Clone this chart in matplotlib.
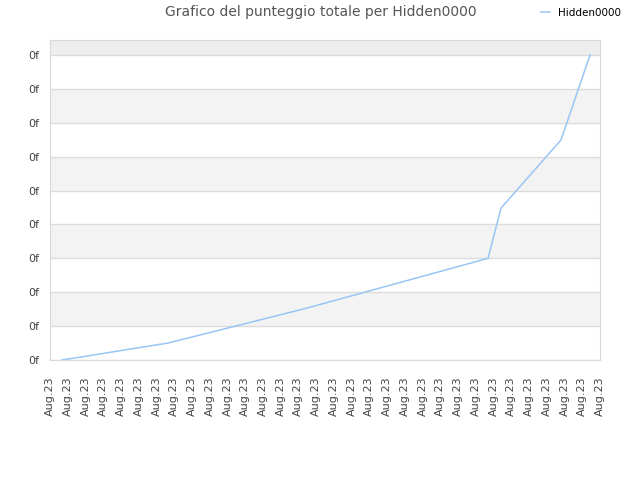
import numpy as np
import matplotlib
matplotlib.use("Agg")
import matplotlib.pyplot as plt

# data (x in tick steps, y in tick steps)
pos_x = [0.68, 6.65, 14.4, 24.69, 25.42, 28.8, 30.44]
score = [0.0, 0.5, 1.52, 3.0, 4.48, 6.49, 9.0]
x_labels = ["Aug.23"] * 32
y_labels = ["0f"] * 10

line_col = "#99c5f5"
grid_col = "#dcdcdc"

fig = plt.figure(figsize=(6.4, 4.8), dpi=100)
ax = fig.add_axes([50/640, 120/480, 550/640, 320/480])

ymax = 9.44
# alternating bands
for k in range(1, 10, 2):
    top = min(k + 1, ymax)
    ax.axhspan(k, top, color="#f3f3f3" if k < 9 else "#eeeeee", zorder=0, lw=0)

ax.plot(pos_x, score, color=line_col, lw=1.1, label="Hidden0000", zorder=3)

ax.set_xlim(0, len(x_labels) - 1)
ax.set_ylim(0, ymax)
ax.set_xticks(np.arange(len(x_labels)))
ax.set_xticklabels(x_labels, rotation=90, fontsize=8, color="#444444")
ax.set_yticks(np.arange(len(y_labels)))
ax.set_yticklabels(y_labels, fontsize=8, color="#444444")
ax.tick_params(length=0, pad=8)
ax.tick_params(axis="x", pad=12)
ax.yaxis.grid(True, color=grid_col, lw=1, zorder=1)
for s in ax.spines.values():
    s.set_color("#d9d9d9")

fig.text(321/640, 1 - 12/480, "Grafico del punteggio totale per Hidden0000",
         ha="center", va="center", fontsize=10, color="#555555")
fig.legend(loc="center", bbox_to_anchor=(581/640, 1 - 13/480), frameon=False,
           fontsize=7.5, handlelength=0.9, handletextpad=0.8)

fig.savefig("out.png", dpi=100)
